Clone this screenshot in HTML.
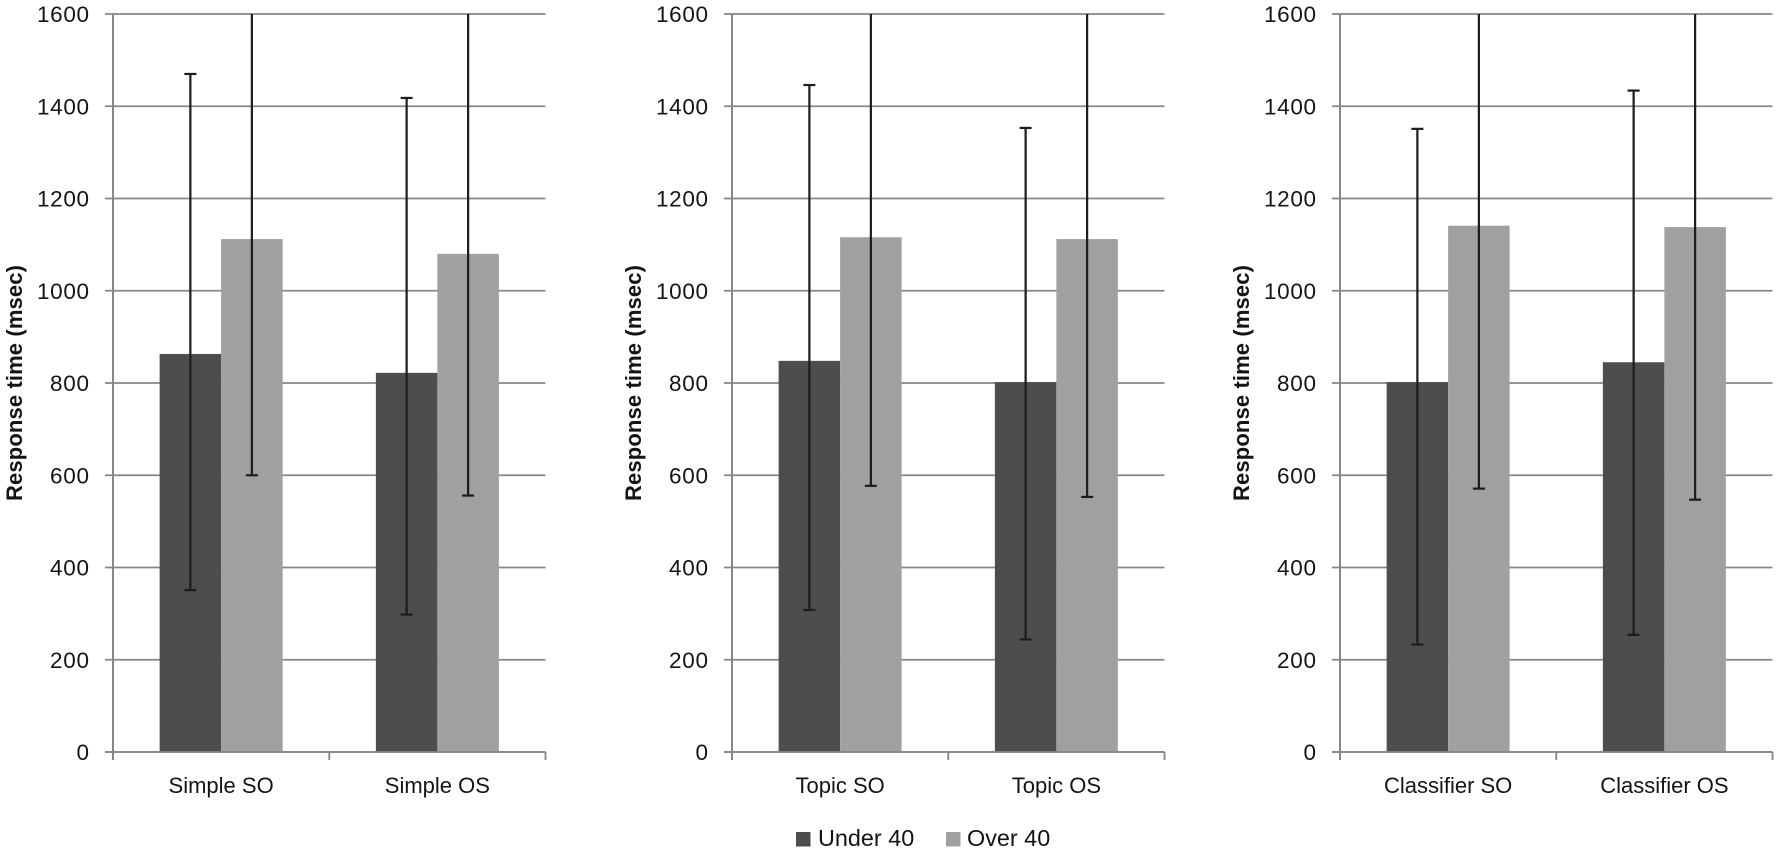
<!DOCTYPE html>
<html lang="en">
<head>
<meta charset="utf-8">
<title>Response time by age group</title>
<style>
  html, body { margin: 0; padding: 0; background: #fff; }
  body { width: 1778px; height: 852px; overflow: hidden; }
  svg { display: block; font-family: "Liberation Sans", sans-serif; fill: #141414; }
</style>
</head>
<body>
<svg id="chart" xmlns="http://www.w3.org/2000/svg" width="1778" height="852" viewBox="0 0 1778 852"></svg>
<script>
const yTicks = [0, 200, 400, 600, 800, 1000, 1200, 1400, 1600];
const categoriesSimple = ['Simple SO', 'Simple OS'];
const categoriesTopic = ['Topic SO', 'Topic OS'];
const categoriesClassifier = ['Classifier SO', 'Classifier OS'];

const under40Simple = [863, 822];
const over40Simple = [1112, 1080];
const under40Topic = [848, 802];
const over40Topic = [1116, 1112];
const under40Classifier = [802, 845];
const over40Classifier = [1141, 1138];

const under40SimpleHigh = [1470, 1418];
const under40SimpleLow = [351, 298];
const over40SimpleHigh = [1624, 1604];
const over40SimpleLow = [600, 556];
const under40TopicHigh = [1446, 1353];
const under40TopicLow = [308, 244];
const over40TopicHigh = [1655, 1671];
const over40TopicLow = [577, 553];
const under40ClassifierHigh = [1351, 1434];
const under40ClassifierLow = [233, 254];
const over40ClassifierHigh = [1711, 1729];
const over40ClassifierLow = [571, 547];

const seriesNames = ['Under 40', 'Over 40'];
const yTitle = 'Response time (msec)';

const NS = 'http://www.w3.org/2000/svg';
const svg = document.getElementById('chart');
const COLORS = ['#4d4d4d', '#a0a0a0'];
const AXIS = '#868686';
const ERR = '#1c1c1c';
const TOP = 14, BOTTOM = 752, PANEL_W = 432.5, BAR_W = 61.5, Y_MAX = 1600;
const y = v => BOTTOM - (Math.min(v, Y_MAX) / Y_MAX) * (BOTTOM - TOP);

function line(parent, x1, y1, x2, y2, stroke, width) {
  const l = document.createElementNS(NS, 'line');
  l.setAttribute('x1', x1);
  l.setAttribute('y1', y1);
  l.setAttribute('x2', x2);
  l.setAttribute('y2', y2);
  l.setAttribute('stroke', stroke);
  l.setAttribute('stroke-width', width);
  parent.appendChild(l);
  return l;
}
function text(parent, x, yy, str, size, anchor) {
  const t = document.createElementNS(NS, 'text');
  t.setAttribute('x', x);
  t.setAttribute('y', yy);
  t.setAttribute('font-size', size);
  t.setAttribute('text-anchor', anchor);
  t.textContent = str;
  parent.appendChild(t);
  return t;
}

function drawPanel(key, x0, cats, series, highs, lows) {
  const g = document.createElementNS(NS, 'g');
  
  
  svg.appendChild(g);
  const x1 = x0 + PANEL_W;
  const catW = PANEL_W / cats.length;

  yTicks.forEach(v => {
    const grid = line(g, x0 - 8, y(v), x1, y(v), AXIS, 1.8);
    
    
    const label = String(v);
    const lab = text(g, x0 - 24, y(v) + 8, label, 22.5, 'end');
    lab.setAttribute('textLength', label.length * 13);
    
    
  });

  const yAxis = line(g, x0, TOP, x0, BOTTOM + 8, AXIS, 2);
  
  

  for (let i = 0; i <= cats.length; i++) {
    const tick = line(g, x0 + i * catW, BOTTOM, x0 + i * catW, BOTTOM + 8, AXIS, 1.8);
    
    
  }

  cats.forEach((c, i) => {
    const cx = x0 + (i + 0.5) * catW;
    series.forEach((vals, s) => {
      const bx = cx - BAR_W + s * BAR_W;
      const r = document.createElementNS(NS, 'rect');
      r.setAttribute('x', bx);
      r.setAttribute('y', y(vals[i]));
      r.setAttribute('width', BAR_W);
      r.setAttribute('height', BOTTOM - y(vals[i]));
      r.setAttribute('fill', COLORS[s]);
      
      
      g.appendChild(r);
    });
    const lab = text(g, cx, 793, c, 22, 'middle');
    
    
  });

  const baseline = line(g, x0 - 8, BOTTOM, x1, BOTTOM, AXIS, 1.8);
  
  

  cats.forEach((c, i) => {
    const cx = x0 + (i + 0.5) * catW;
    series.forEach((vals, s) => {
      const ex = cx - BAR_W / 2 + s * BAR_W;
      const hi = highs[s][i], lo = lows[s][i];
      const stem = line(g, ex, y(hi), ex, y(lo), ERR, 2.2);
      
      
      const capLo = line(g, ex - 6, y(lo), ex + 6, y(lo), ERR, 2.2);
      
      
      if (hi < Y_MAX) {
        const capHi = line(g, ex - 6, y(hi), ex + 6, y(hi), ERR, 2.2);
        
        
      }
    });
  });

  const bx = x0 - 91, by = 383;
  const title = text(g, 0, 0, yTitle, 22, 'middle');
  title.setAttribute('font-weight', 'bold');
  title.setAttribute('transform', 'translate(' + bx + ' ' + by + ') rotate(-90)');
  title.setAttribute('textLength', '236');
  
  
}

drawPanel('simple', 113, categoriesSimple,
  [under40Simple, over40Simple],
  [under40SimpleHigh, over40SimpleHigh],
  [under40SimpleLow, over40SimpleLow]);
drawPanel('topic', 732, categoriesTopic,
  [under40Topic, over40Topic],
  [under40TopicHigh, over40TopicHigh],
  [under40TopicLow, over40TopicLow]);
drawPanel('classifier', 1340, categoriesClassifier,
  [under40Classifier, over40Classifier],
  [under40ClassifierHigh, over40ClassifierHigh],
  [under40ClassifierLow, over40ClassifierLow]);

const legend = document.createElementNS(NS, 'g');


svg.appendChild(legend);
[796, 946].forEach((lx, i) => {
  const sw = document.createElementNS(NS, 'rect');
  sw.setAttribute('x', lx);
  sw.setAttribute('y', 832);
  sw.setAttribute('width', 14.5);
  sw.setAttribute('height', 14.5);
  sw.setAttribute('fill', COLORS[i]);
  
  
  legend.appendChild(sw);
  const lab = text(legend, lx + (i ? 21 : 22), 846, seriesNames[i], 23.4, 'start');
  
  
});
</script>
</body>
</html>
